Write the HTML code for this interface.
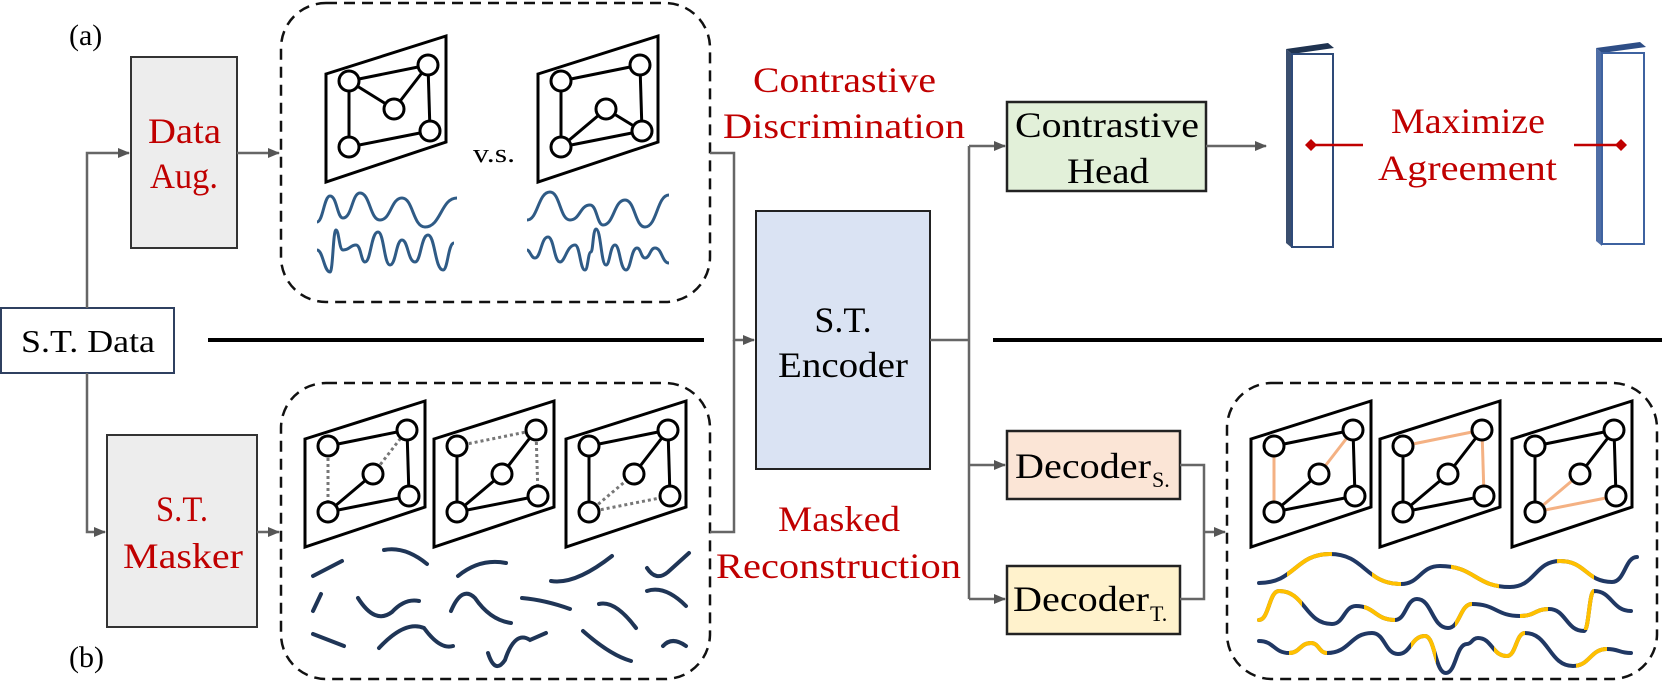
<!DOCTYPE html>
<html><head><meta charset="utf-8"><style>
html,body{margin:0;padding:0;background:#fff;}
svg{display:block;}
text{font-family:"Liberation Serif",serif;}
</style></head><body>
<svg width="1662" height="683" viewBox="0 0 1662 683" xmlns="http://www.w3.org/2000/svg">
<defs>
<marker id="ar" markerWidth="12" markerHeight="12" refX="11" refY="6" orient="auto" markerUnits="userSpaceOnUse">
<path d="M0,1 L12,6 L0,11 z" fill="#555"/></marker>
<g id="quad"><polygon points="0,38 120,0 120,106 0,146" fill="#fff" stroke="#000" stroke-width="3"/></g>
<g id="nodes" fill="#fff" stroke="#000" stroke-width="3">
<circle cx="23" cy="45" r="10"/><circle cx="102" cy="29" r="10"/><circle cx="68" cy="73" r="10"/><circle cx="23" cy="111" r="10"/><circle cx="104" cy="95" r="10"/></g>
<clipPath id="c1"><rect x="1287" y="540" width="45" height="60"/><rect x="1372" y="540" width="29" height="60"/><rect x="1451" y="540" width="48" height="60"/><rect x="1557" y="540" width="37" height="60"/></clipPath>
<clipPath id="c2"><rect x="1250" y="585" width="52" height="45"/><rect x="1364" y="585" width="31" height="45"/><rect x="1455" y="585" width="17" height="45"/><rect x="1520" y="585" width="28" height="45"/><rect x="1584" y="585" width="10" height="45"/></clipPath>
<clipPath id="c3"><rect x="1289" y="628" width="38" height="50"/><rect x="1411" y="628" width="25" height="50"/><rect x="1494" y="628" width="31" height="50"/><rect x="1576" y="628" width="31" height="50"/></clipPath>
<path id="w1" d="M1259,583 C1295,583 1295,554 1330,554 C1365,554 1365,584 1401,584 C1420,584 1420,566 1440,566 C1475,566 1475,587 1510,587 C1535,587 1535,561 1560,561 C1586,561 1586,582 1612,582 C1625,582 1625,557 1637,557"/>
<path id="w2" d="M1259,620 C1269,620 1269,591 1279,591 C1305,591 1305,624 1332,624 C1344,624 1344,606 1356,606 C1375,606 1375,620 1395,620 C1406,620 1406,599 1417,599 C1432,599 1432,628 1448,628 C1460,628 1460,604 1472,604 C1496,604 1496,616 1520,616 C1535,616 1535,609 1549,609 C1566,609 1566,631 1584,631 C1589,631 1589,591 1594,591 C1612,591 1612,611 1631,611"/>
<path id="w3" d="M1259,641 C1274,641 1274,653 1289,653 C1300,653 1300,643 1311,643 C1319,643 1319,653 1327,653 C1350,653 1350,633 1372,633 C1385,633 1385,654 1398,654 C1411,654 1411,636 1425,636 C1435,636 1435,673 1446,673 C1456,673 1456,644 1467,644 C1472,644 1472,638 1478,638 C1492,638 1492,656 1507,656 C1516,656 1516,633 1525,633 C1549,633 1549,666 1573,666 C1590,666 1590,649 1607,649 C1619,649 1619,653 1631,653"/>
</defs>

<text x="69" y="45" font-size="30">(a)</text>
<text x="69" y="667" font-size="30">(b)</text>

<rect x="1" y="308" width="173" height="65" fill="#fff" stroke="#2f4060" stroke-width="2"/>
<text x="21" y="352" font-size="32" textLength="134" lengthAdjust="spacingAndGlyphs">S.T. Data</text>
<path d="M87,308 V153 H129" stroke="#666" stroke-width="2.5" fill="none" marker-end="url(#ar)"/>
<path d="M87,373 V532 H105" stroke="#666" stroke-width="2.5" fill="none" marker-end="url(#ar)"/>

<rect x="131" y="57" width="106" height="191" fill="#ededed" stroke="#333" stroke-width="2"/>
<text x="148" y="143" font-size="36" fill="#c00000" textLength="73" lengthAdjust="spacingAndGlyphs">Data</text>
<text x="150" y="188" font-size="36" fill="#c00000" textLength="68" lengthAdjust="spacingAndGlyphs">Aug.</text>
<path d="M237,153 H279" stroke="#666" stroke-width="2.5" marker-end="url(#ar)"/>

<rect x="107" y="435" width="150" height="192" fill="#ededed" stroke="#333" stroke-width="2"/>
<text x="156" y="521" font-size="36" fill="#c00000" textLength="52" lengthAdjust="spacingAndGlyphs">S.T.</text>
<text x="123" y="568" font-size="36" fill="#c00000" textLength="120" lengthAdjust="spacingAndGlyphs">Masker</text>
<path d="M257,532 H279" stroke="#666" stroke-width="2.5" marker-end="url(#ar)"/>

<rect x="281" y="3" width="429" height="299" rx="45" fill="none" stroke="#111" stroke-width="2.5" stroke-dasharray="11,7"/>
<g transform="translate(326,36)">
<use href="#quad"/>
<g stroke="#000" stroke-width="3"><line x1="23" y1="45" x2="102" y2="29"/><line x1="23" y1="45" x2="68" y2="73"/><line x1="68" y1="73" x2="102" y2="29"/><line x1="23" y1="45" x2="23" y2="111"/><line x1="102" y1="29" x2="104" y2="95"/><line x1="23" y1="111" x2="104" y2="95"/></g>
<use href="#nodes"/></g>
<g transform="translate(538,36)">
<use href="#quad"/>
<g stroke="#000" stroke-width="3"><line x1="23" y1="45" x2="102" y2="29"/><line x1="23" y1="45" x2="23" y2="111"/><line x1="102" y1="29" x2="104" y2="95"/><line x1="23" y1="111" x2="104" y2="95"/><line x1="23" y1="111" x2="68" y2="73"/><line x1="68" y1="73" x2="104" y2="95"/></g>
<use href="#nodes"/></g>
<text x="473" y="162" font-size="26" textLength="42" lengthAdjust="spacingAndGlyphs">v.s.</text>
<g stroke="#2f5b86" stroke-width="3" fill="none" stroke-linejoin="round">
<path d="M317,222 C323,222 324,196 330,196 C337,196 337,218 343,218 C352,218 352,193 360,193 C370,193 370,220 380,220 C391,220 391,198 402,198 C413,198 413,227 425,227 C441,227 441,198 457,198"/>
<path d="M317,250 C323,250 324,272 330,272 C333,272 333,230 336,230 C339,230 339,250 343,250 C350,250 350,245 356,245 C361,245 361,262 365,262 C371,262 371,232 378,232 C384,232 384,265 390,265 C396,265 396,240 402,240 C408,240 408,262 415,262 C421,262 421,235 428,235 C435,235 435,270 443,270 C448,270 448,243 454,243"/>
<path d="M527,220 C538,220 538,192 550,192 C560,192 560,220 570,220 C580,220 580,205 590,205 C597,205 597,225 603,225 C614,225 614,200 625,200 C635,200 635,227 645,227 C657,227 657,195 669,195"/>
<path d="M527,250 C530,250 531,258 535,258 C541,258 541,237 548,237 C554,237 554,262 560,262 C565,262 567,245 575,245 C580,245 580,270 585,270 C588,270 588,252 591,252 C593,252 593,229 596,229 C601,229 601,265 606,265 C610,265 610,245 615,245 C620,245 620,270 626,270 C631,270 631,248 637,248 C641,248 641,258 645,258 C650,258 650,248 655,248 C662,248 662,263 669,263"/>
</g>

<rect x="281" y="383" width="429" height="296" rx="45" fill="none" stroke="#111" stroke-width="2.5" stroke-dasharray="11,7"/>
<g transform="translate(305,401)"><use href="#quad"/>
<g stroke="#000" stroke-width="3"><line x1="23" y1="45" x2="102" y2="29"/><line x1="23" y1="111" x2="68" y2="73"/><line x1="102" y1="29" x2="104" y2="95"/><line x1="23" y1="111" x2="104" y2="95"/></g>
<g stroke="#777" stroke-width="3" stroke-dasharray="3,3"><line x1="23" y1="45" x2="23" y2="111"/><line x1="68" y1="73" x2="102" y2="29"/></g>
<use href="#nodes"/></g>
<g transform="translate(434,401)"><use href="#quad"/>
<g stroke="#000" stroke-width="3"><line x1="23" y1="45" x2="23" y2="111"/><line x1="23" y1="111" x2="68" y2="73"/><line x1="68" y1="73" x2="102" y2="29"/><line x1="23" y1="111" x2="104" y2="95"/></g>
<g stroke="#777" stroke-width="3" stroke-dasharray="3,3"><line x1="23" y1="45" x2="102" y2="29"/><line x1="102" y1="29" x2="104" y2="95"/></g>
<use href="#nodes"/></g>
<g transform="translate(566,401)"><use href="#quad"/>
<g stroke="#000" stroke-width="3"><line x1="23" y1="45" x2="102" y2="29"/><line x1="23" y1="45" x2="23" y2="111"/><line x1="68" y1="73" x2="102" y2="29"/><line x1="102" y1="29" x2="104" y2="95"/></g>
<g stroke="#777" stroke-width="3" stroke-dasharray="3,3"><line x1="23" y1="111" x2="68" y2="73"/><line x1="23" y1="111" x2="104" y2="95"/></g>
<use href="#nodes"/></g>
<g stroke="#1f3556" stroke-width="4" fill="none" stroke-linecap="round">
<path d="M313,576 L342,561"/><path d="M384,550 Q405,546 427,564"/><path d="M458,576 Q480,558 506,563"/><path d="M551,581 Q575,585 612,556"/><path d="M647,568 Q656,582 668,572 L689,553"/>
<path d="M313,611 L321,594"/><path d="M358,598 Q375,625 392,612 Q405,598 419,601"/><path d="M451,611 Q462,585 475,598 Q490,620 511,623"/><path d="M522,598 Q545,600 570,609"/><path d="M599,604 Q615,600 636,628"/><path d="M647,591 Q665,585 686,606"/>
<path d="M313,634 L344,646"/><path d="M379,648 Q405,620 424,628 Q440,650 453,646"/><path d="M488,653 Q495,675 505,660 Q515,630 530,640 L546,633"/><path d="M583,631 Q610,655 631,661"/><path d="M663,646 Q672,636 686,646"/>
</g>

<path d="M710,153 H734 V340 H754" stroke="#666" stroke-width="2.5" fill="none" marker-end="url(#ar)"/>
<path d="M710,532 H734 V340" stroke="#666" stroke-width="2.5" fill="none"/>
<rect x="756" y="211" width="174" height="258" fill="#dae3f3" stroke="#222" stroke-width="2"/>
<text x="843" y="332" font-size="36" text-anchor="middle">S.T.</text>
<text x="843" y="377" font-size="36" text-anchor="middle" textLength="130" lengthAdjust="spacingAndGlyphs">Encoder</text>
<line x1="208" y1="340" x2="704" y2="340" stroke="#000" stroke-width="4"/>
<line x1="993" y1="340" x2="1662" y2="340" stroke="#000" stroke-width="4"/>
<text x="753" y="92" font-size="36" fill="#c00000" textLength="183" lengthAdjust="spacingAndGlyphs">Contrastive</text>
<text x="723" y="138" font-size="36" fill="#c00000" textLength="242" lengthAdjust="spacingAndGlyphs">Discrimination</text>
<text x="778" y="531" font-size="36" fill="#c00000" textLength="122" lengthAdjust="spacingAndGlyphs">Masked</text>
<text x="716" y="578" font-size="36" fill="#c00000" textLength="245" lengthAdjust="spacingAndGlyphs">Reconstruction</text>

<path d="M930,340 H969" stroke="#666" stroke-width="2.5"/>
<path d="M969,146 V599" stroke="#666" stroke-width="2.5"/>
<path d="M969,146 H1005" stroke="#666" stroke-width="2.5" marker-end="url(#ar)"/>
<path d="M969,465 H1005" stroke="#666" stroke-width="2.5" marker-end="url(#ar)"/>
<path d="M969,599 H1005" stroke="#666" stroke-width="2.5" marker-end="url(#ar)"/>

<rect x="1007" y="102" width="199" height="89" fill="#e2f0d9" stroke="#222" stroke-width="2.5"/>
<text x="1015" y="137" font-size="36" textLength="184" lengthAdjust="spacingAndGlyphs">Contrastive</text>
<text x="1067" y="183" font-size="36" textLength="82" lengthAdjust="spacingAndGlyphs">Head</text>
<path d="M1206,146 H1266" stroke="#666" stroke-width="2.5" marker-end="url(#ar)"/>

<rect x="1007" y="431" width="173" height="68" fill="#fbe5d6" stroke="#222" stroke-width="2.5"/>
<text x="1015" y="478" font-size="36" textLength="136" lengthAdjust="spacingAndGlyphs">Decoder</text>
<text x="1152" y="487" font-size="22">S.</text>
<rect x="1007" y="566" width="173" height="68" fill="#fff2cc" stroke="#222" stroke-width="2.5"/>
<text x="1013" y="611" font-size="36" textLength="136" lengthAdjust="spacingAndGlyphs">Decoder</text>
<text x="1150" y="621" font-size="22">T.</text>
<path d="M1180,465 H1204 V599 H1180" stroke="#666" stroke-width="2.5" fill="none"/>
<path d="M1204,532 H1225" stroke="#666" stroke-width="2.5" marker-end="url(#ar)"/>

<polygon points="1286,49 1328,43 1334,48 1292,54" fill="#1f3350"/>
<polygon points="1286,49 1292,54 1292,248 1286,243" fill="#3a4e6e"/>
<rect x="1292" y="54" width="41" height="193" fill="#fff" stroke="#2e4a78" stroke-width="2"/>
<polygon points="1596,48 1640,42 1646,47 1602,53" fill="#2e4e86"/>
<polygon points="1596,48 1602,53 1602,246 1596,241" fill="#4f6ea6"/>
<rect x="1602" y="53" width="42" height="191" fill="#fff" stroke="#3e62a0" stroke-width="2"/>
<text x="1391" y="133" font-size="36" fill="#c00000" textLength="154" lengthAdjust="spacingAndGlyphs">Maximize</text>
<text x="1378" y="180" font-size="36" fill="#c00000" textLength="179" lengthAdjust="spacingAndGlyphs">Agreement</text>
<line x1="1311" y1="145" x2="1363" y2="145" stroke="#c00000" stroke-width="2.5"/>
<polygon points="1305,145 1311,139 1317,145 1311,151" fill="#c00000"/>
<line x1="1574" y1="145" x2="1621" y2="145" stroke="#c00000" stroke-width="2.5"/>
<polygon points="1615,145 1621,139 1627,145 1621,151" fill="#c00000"/>

<rect x="1227" y="383" width="430" height="296" rx="45" fill="none" stroke="#111" stroke-width="2.5" stroke-dasharray="11,7"/>
<g transform="translate(1251,401)"><use href="#quad"/>
<g stroke="#000" stroke-width="3"><line x1="23" y1="45" x2="102" y2="29"/><line x1="23" y1="111" x2="68" y2="73"/><line x1="102" y1="29" x2="104" y2="95"/><line x1="23" y1="111" x2="104" y2="95"/></g>
<g stroke="#f4b183" stroke-width="3"><line x1="23" y1="45" x2="23" y2="111"/><line x1="68" y1="73" x2="102" y2="29"/></g>
<use href="#nodes"/></g>
<g transform="translate(1380,401)"><use href="#quad"/>
<g stroke="#000" stroke-width="3"><line x1="23" y1="45" x2="23" y2="111"/><line x1="23" y1="111" x2="68" y2="73"/><line x1="68" y1="73" x2="102" y2="29"/><line x1="23" y1="111" x2="104" y2="95"/></g>
<g stroke="#f4b183" stroke-width="3"><line x1="23" y1="45" x2="102" y2="29"/><line x1="102" y1="29" x2="104" y2="95"/></g>
<use href="#nodes"/></g>
<g transform="translate(1512,401)"><use href="#quad"/>
<g stroke="#000" stroke-width="3"><line x1="23" y1="45" x2="102" y2="29"/><line x1="23" y1="45" x2="23" y2="111"/><line x1="68" y1="73" x2="102" y2="29"/><line x1="102" y1="29" x2="104" y2="95"/></g>
<g stroke="#f4b183" stroke-width="3"><line x1="23" y1="111" x2="68" y2="73"/><line x1="23" y1="111" x2="104" y2="95"/></g>
<use href="#nodes"/></g>
<g fill="none" stroke-width="4" stroke-linecap="round">
<g stroke="#203864"><use href="#w1"/><use href="#w2"/><use href="#w3"/></g>
<g stroke="#ffc000">
<g clip-path="url(#c1)"><use href="#w1"/></g>
<g clip-path="url(#c2)"><use href="#w2"/></g>
<g clip-path="url(#c3)"><use href="#w3"/></g>
</g>
</g>
</svg>
</body></html>
